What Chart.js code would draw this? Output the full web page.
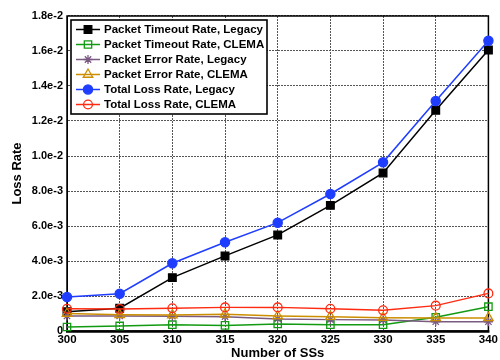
<!DOCTYPE html>
<html>
<head>
<meta charset="utf-8">
<script src="https://cdn.jsdelivr.net/npm/chart.js@4/dist/chart.umd.min.js"></script>
<style>
  html, body { margin: 0; padding: 0; background: #fff; }
  #wrap { width: 500px; height: 360px; }
</style>
</head>
<body>
<div id="wrap"><canvas id="c" width="500" height="360"></canvas></div>
<script>
// ── Data ──
const ssCounts = ['300', '305', '310', '315', '320', '325', '330', '335', '340'];

const timeoutLegacy = [1.10e-3, 1.30e-3, 3.05e-3, 4.29e-3, 5.49e-3, 7.18e-3, 9.03e-3, 1.261e-2, 1.606e-2];
const timeoutClema  = [0.23e-3, 0.29e-3, 0.36e-3, 0.32e-3, 0.40e-3, 0.36e-3, 0.36e-3, 0.78e-3, 1.39e-3];
const errorLegacy   = [0.86e-3, 0.86e-3, 0.85e-3, 0.82e-3, 0.69e-3, 0.65e-3, 0.63e-3, 0.53e-3, 0.53e-3];
const errorClema    = [1.00e-3, 0.93e-3, 0.91e-3, 0.95e-3, 0.86e-3, 0.82e-3, 0.76e-3, 0.75e-3, 0.75e-3];
const totalLegacy   = [1.94e-3, 2.13e-3, 3.87e-3, 5.07e-3, 6.19e-3, 7.83e-3, 9.64e-3, 1.314e-2, 1.659e-2];
const totalClema    = [1.27e-3, 1.26e-3, 1.30e-3, 1.35e-3, 1.35e-3, 1.27e-3, 1.18e-3, 1.45e-3, 2.15e-3];

const yTickLabels = ['0', '2.0e-3', '4.0e-3', '6.0e-3', '8.0e-3', '1.0e-2', '1.2e-2', '1.4e-2', '1.6e-2', '1.8e-2'];

const FONT = "'Liberation Sans', Arial, Helvetica, sans-serif";
const NONE = 'rgba(0,0,0,0)';

// ── Series styling ──
const SERIES = [
    { label: 'Packet Timeout Rate, Legacy', data: timeoutLegacy, color: '#000000', style: 'rect',     radius: 5.4, fill: true  },
    { label: 'Packet Timeout Rate, CLEMA',  data: timeoutClema,  color: '#139a13', style: 'rect',     radius: 5.2, fill: false },
    { label: 'Packet Error Rate, Legacy',   data: errorLegacy,   color: '#7b5a82', style: 'star',     radius: 4.5, fill: false },
    { label: 'Packet Error Rate, CLEMA',    data: errorClema,    color: '#cc8e00', style: 'triangle', radius: 5.5, fill: false },
    { label: 'Total Loss Rate, Legacy',     data: totalLegacy,   color: '#1f3dff', style: 'circle',   radius: 4.6, fill: true  },
    { label: 'Total Loss Rate, CLEMA',      data: totalClema,    color: '#ff2a10', style: 'circle',   radius: 4.4, fill: false },
];

// ── Frame (box around plot area) ──
const framePlugin = {
    id: 'frame',
    beforeDatasetsDraw(chart) {
        const { ctx, chartArea: a } = chart;
        ctx.save();
        ctx.strokeStyle = '#000';
        ctx.lineWidth = 1.5;
        ctx.strokeRect(a.left, a.top, a.right - a.left, a.bottom - a.top);
        ctx.lineWidth = 2.5;
        ctx.beginPath();
        ctx.moveTo(a.left - 1, a.bottom + 0.5);
        ctx.lineTo(a.right + 1, a.bottom + 0.5);
        ctx.stroke();
        ctx.restore();
    },
};

// ── Legend box inside the plot ──
const boxLegendPlugin = {
    id: 'boxLegend',
    afterDraw(chart) {
        const { ctx, chartArea: a } = chart;
        const x0 = a.left + 4, y0 = a.top + 4;
        const w = 196, rowH = 15, h = 94;
        ctx.save();
        ctx.fillStyle = '#fff';
        ctx.fillRect(x0, y0, w, h);
        ctx.strokeStyle = '#000';
        ctx.lineWidth = 1.6;
        ctx.strokeRect(x0, y0, w, h);

        ctx.font = `bold 11.5px ${FONT}`;
        ctx.textBaseline = 'middle';
        chart.data.datasets.forEach((ds, i) => {
            const cy = y0 + 9.5 + i * rowH;
            ctx.strokeStyle = ds.borderColor;
            ctx.lineWidth = 1.5;
            ctx.beginPath();
            ctx.moveTo(x0 + 5, cy);
            ctx.lineTo(x0 + 29, cy);
            ctx.stroke();

            ctx.fillStyle = ds.pointBackgroundColor;
            ctx.strokeStyle = ds.pointBorderColor;
            ctx.lineWidth = ds.pointBorderWidth;
            Chart.helpers.drawPoint(ctx, {
                pointStyle: ds.pointStyle,
                radius: ds.pointRadius,
                borderWidth: ds.pointBorderWidth,
                rotation: 0,
            }, x0 + 17, cy);

            ctx.fillStyle = '#000';
            ctx.fillText(ds.label, x0 + 33, cy + 0.5);
        });
        ctx.restore();
    },
};

new Chart(document.getElementById('c'), {
    type: 'line',
    data: {
        labels: ssCounts,
        datasets: SERIES.map((s, i) => ({
            label: s.label,
            data: s.data,
            borderColor: s.color,
            borderWidth: 1.5,
            pointStyle: s.style,
            pointRadius: s.radius,
            pointHoverRadius: s.radius,
            pointBorderColor: s.color,
            pointBackgroundColor: s.fill ? s.color : NONE,
            pointBorderWidth: 1.3,
            tension: 0,
            fill: false,
            clip: false,
            order: SERIES.length - i,
        })),
    },
    options: {
        responsive: false,
        animation: false,
        events: [],
        layout: { padding: { top: 16, right: 9, left: 0, bottom: 0 } },
        plugins: {
            legend:  { display: false },
            tooltip: { enabled: false },
        },
        scales: {
            x: {
                type: 'category',
                offset: false,
                grid: {
                    color: '#555',
                    lineWidth: 1,
                    drawTicks: false,
                },
                border: { display: true, color: '#000', width: 1, dash: [2, 1] },
                ticks: {
                    color: '#000',
                    padding: 2,
                    maxRotation: 0,
                    autoSkip: false,
                    font: { family: FONT, size: 11.5, weight: 'bold' },
                },
                title: {
                    display: true,
                    text: 'Number of SSs',
                    color: '#000',
                    padding: { top: 0, bottom: -1 },
                    font: { family: FONT, size: 13, weight: 'bold' },
                },
                afterFit(scale) { scale.height = 29; },
            },
            y: {
                min: 0,
                max: 0.018,
                grid: {
                    color: '#555',
                    lineWidth: 1,
                    drawTicks: false,
                },
                border: { display: true, color: '#000', width: 1, dash: [2, 1] },
                afterBuildTicks(scale) {
                    scale.ticks = yTickLabels.map((_, i) => ({ value: i * 0.002 }));
                },
                ticks: {
                    color: '#000',
                    padding: 4,
                    font: { family: FONT, size: 11, weight: 'bold' },
                    callback: (v, i) => yTickLabels[i],
                },
                title: {
                    display: true,
                    text: 'Loss Rate',
                    color: '#000',
                    padding: { top: 10, bottom: 0 },
                    font: { family: FONT, size: 13, weight: 'bold' },
                },
                afterFit(scale) { scale.width = 67; },
            },
        },
    },
    plugins: [framePlugin, boxLegendPlugin],
});
</script>
</body>
</html>
